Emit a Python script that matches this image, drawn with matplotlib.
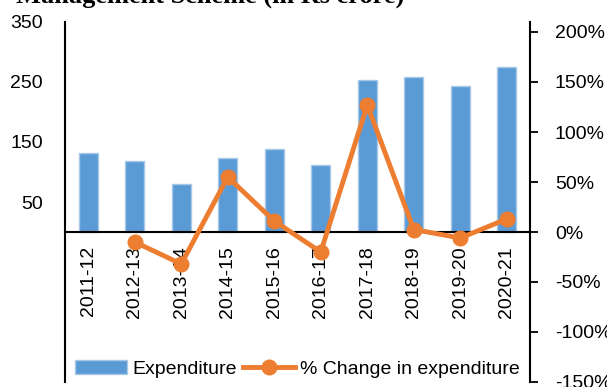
import numpy as np
import matplotlib
matplotlib.use("Agg")
import matplotlib.pyplot as plt
from matplotlib.ticker import FuncFormatter

plt.rcParams['font.family'] = ['Liberation Sans', 'DejaVu Sans']

years = ["2011-12", "2012-13", "2013-14", "2014-15", "2015-16",
         "2016-17", "2017-18", "2018-19", "2019-20", "2020-21"]
expenditure = [131, 118, 80, 124, 138, 111, 253, 259, 243, 275]
pct_change = [np.nan, -10, -32, 55, 11, -20, 127, 2.5, -6, 13]

left_ticks = [50, 150, 250, 350]
right_ticks = [-150, -100, -50, 0, 50, 100, 150, 200]

W, H = 607, 387
fig = plt.figure(figsize=(W / 100, H / 100), dpi=100)
ax = fig.add_axes([65 / W, 1 - 382 / H, (530 - 65) / W, (382 - 22) / H])

x = np.arange(len(years))
ax.bar(x, expenditure, width=0.4, color="#5B9BD5", edgecolor="#A8C8E8",
       linewidth=1, label="Expenditure", zorder=2)
ax.set_xlim(-0.5, len(years) - 0.5)
ax.set_ylim(-250, 350)
ax.set_yticks(left_ticks)
ax.tick_params(axis="y", length=0, pad=16, labelsize=14)

# category axis crosses at zero
for s in ("top", "right"):
    ax.spines[s].set_visible(False)
ax.spines["bottom"].set_position(("data", 0))
ax.spines["bottom"].set_linewidth(1.5)
ax.spines["bottom"].set_zorder(3)
ax.spines["left"].set_linewidth(1.5)
ax.set_xticks(x)
ax.set_xticklabels(years, rotation=90, va="top", ha="center")
ax.tick_params(axis="x", length=0, pad=10, labelsize=14)

ax2 = ax.twinx()
ax2.plot(x, pct_change, color="#ED7D31", lw=3.5, marker="o", ms=10.5,
         label="% Change in expenditure", zorder=4)
ax2.set_ylim(-150, 210)
ax2.set_yticks(right_ticks)
ax2.yaxis.set_major_formatter(FuncFormatter(lambda v, p: f"{v:.0f}%"))
ax2.tick_params(axis="y", direction="out", length=6, width=1.3, pad=12,
                labelsize=14)
for s in ("top", "left", "bottom"):
    ax2.spines[s].set_visible(False)
ax2.spines["right"].set_linewidth(1.5)

h1, l1 = ax.get_legend_handles_labels()
h2, l2 = ax2.get_legend_handles_labels()
fig.legend(h1 + h2, l1 + l2, loc="center left",
           bbox_to_anchor=(65 / W, 1 - 369 / H), ncol=2, frameon=False,
           fontsize=14, borderpad=0, handlelength=2.7, handletextpad=0.26,
           columnspacing=0.3)

fig.text(16 / W, 1 - 3 / H, "Management Scheme (in Rs crore)",
         family=["Liberation Serif", "DejaVu Serif"], weight="bold",
         fontsize=19, va="baseline", ha="left")

fig.savefig("out.png", dpi=100)
